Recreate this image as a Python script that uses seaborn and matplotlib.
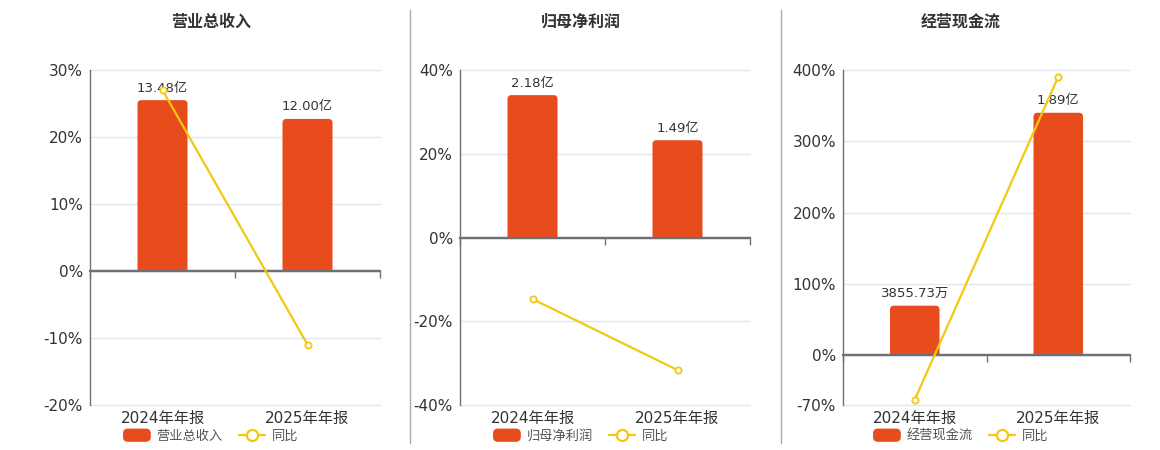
import matplotlib
matplotlib.use("Agg")
import matplotlib.pyplot as plt
import seaborn as sns
from matplotlib.lines import Line2D
from matplotlib.patches import Patch, FancyBboxPatch, Rectangle
from matplotlib.legend_handler import HandlerPatch

sns.set_theme(style="white")
plt.rcParams['font.family'] = ['DejaVu Sans', 'Noto Sans CJK SC']

# data
categories = ['2024年年报', '2025年年报']

revenue = [13.48, 12.00]
revenue_labels = ['13.48亿', '12.00亿']
revenue_yoy = [27.0, -10.98]

profit = [2.18, 1.49]
profit_labels = ['2.18亿', '1.49亿']
profit_yoy = [-14.7, -31.65]

cashflow = [0.3856, 1.89]
cashflow_labels = ['3855.73万', '1.89亿']
cashflow_yoy = [-62.4, 390.4]

titles = ['营业总收入', '归母净利润', '经营现金流']
yticks_list = [[-20, -10, 0, 10, 20, 30],
               [-40, -20, 0, 20, 40],
               [-70, 0, 100, 200, 300, 400]]

BAR_COLOR = '#E84C1D'
LINE_COLOR = '#F2C811'
AXIS_COLOR = '#6E7079'
GRID_COLOR = '#E0E6F1'
TEXT_COLOR = '#333333'


def rounded_handle(legend, orig_handle, xdescent, ydescent, width, height, fontsize):
    return FancyBboxPatch((-xdescent, -ydescent), width, height,
                          boxstyle="round,pad=0,rounding_size=3")


fig = plt.figure(figsize=(11.6, 4.5), dpi=100)

panels = [
    (revenue, revenue_labels, revenue_yoy),
    (profit, profit_labels, profit_yoy),
    (cashflow, cashflow_labels, cashflow_yoy),
]
ax_lefts = [90, 460, 843]
ax_widths = [290, 290, 287]
centers = [211, 581, 961]
AX_H = 335

for i, (vals, labels, yoy) in enumerate(panels):
    rect = [ax_lefts[i] / 1160, 1 - 405 / 450, ax_widths[i] / 1160, AX_H / 450]
    ax = fig.add_axes(rect)
    ax_bar = ax.twinx()
    ax_line = ax.twinx()

    ticks = yticks_list[i]
    ylo, yhi = ticks[0], ticks[-1]

    # bars on their own hidden scale, zero aligned with the % axis
    sns.barplot(x=categories, y=vals, ax=ax_bar, color=BAR_COLOR,
                width=0.345, saturation=1)
    bhi = max(vals) / 0.85
    blo = bhi * ylo / yhi
    ax_bar.set_ylim(blo, bhi)
    ax_bar.set_xlim(-0.5, 1.5)
    ax_bar.axis('off')

    # round the top corners of the bars
    xpp = 2.0 / ax_widths[i]
    ypp = (bhi - blo) / AX_H
    r = 4 * xpp
    clip = Rectangle((-0.5, 0), 2, bhi * 2, transform=ax_bar.transData)
    for p in list(ax_bar.patches):
        x0, w, h = p.get_x(), p.get_width(), p.get_height()
        p.remove()
        rb = FancyBboxPatch((x0, -10 * ypp), w, h + 10 * ypp,
                            boxstyle=f"round,pad=0,rounding_size={r}",
                            mutation_aspect=ypp / xpp,
                            facecolor=BAR_COLOR, edgecolor='none')
        ax_bar.add_patch(rb)
        rb.set_clip_path(clip)
    for x, v, lab in zip(range(len(vals)), vals, labels):
        ax_bar.annotate(lab, (x, v), xytext=(0, 4), textcoords='offset points',
                        ha='center', va='bottom', fontsize=9.5, color=TEXT_COLOR)

    # yoy line
    ax_line.axhline(0, color=AXIS_COLOR, lw=1.6, zorder=0.5)
    sns.lineplot(x=categories, y=yoy, ax=ax_line, color=LINE_COLOR, lw=1.6,
                 marker='o', markersize=4.5, markerfacecolor='white',
                 markeredgecolor=LINE_COLOR, markeredgewidth=1.3)
    ax_line.set_ylim(ylo, yhi)
    ax_line.axis('off')

    # main % axis
    ax.set_xlim(-0.5, 1.5)
    ax.set_ylim(ylo, yhi)
    ax.set_yticks(ticks)
    ax.set_yticklabels([f'{t}%' for t in ticks], fontsize=11, color=TEXT_COLOR)
    ax.yaxis.grid(True, color=GRID_COLOR, lw=1)
    for gl in ax.get_ygridlines():
        gl.set_clip_on(False)
    ax.tick_params(axis='y', length=0, pad=5)
    for s in ['top', 'right']:
        ax.spines[s].set_visible(False)
    ax.spines['left'].set_color(AXIS_COLOR)
    ax.spines['left'].set_linewidth(1)
    ax.spines['bottom'].set_position(('data', 0))
    ax.spines['bottom'].set_color(AXIS_COLOR)
    ax.spines['bottom'].set_linewidth(1.6)
    ax.set_xticks([-0.5, 0.5, 1.5])
    ax.set_xticklabels([])
    ax.tick_params(axis='x', bottom=True, length=5, width=1, color=AXIS_COLOR,
                   direction='out')

    sec = ax.secondary_xaxis(0)
    sec.set_xticks([0, 1], categories)
    sec.tick_params(length=0, pad=4, labelsize=11, labelcolor=TEXT_COLOR)
    sec.spines['bottom'].set_visible(False)

    fig.text(centers[i] / 1160, 1 - 22 / 450, titles[i], ha='center', va='center',
             fontsize=11.5, fontweight='bold', color=TEXT_COLOR)

    bar_handle = Patch(facecolor=BAR_COLOR, edgecolor=BAR_COLOR, label=titles[i])
    handles = [
        bar_handle,
        Line2D([0], [0], color=LINE_COLOR, lw=1.6, marker='o', markersize=8,
               markerfacecolor='white', markeredgecolor=LINE_COLOR,
               markeredgewidth=1.6, label='同比'),
    ]
    fig.legend(handles=handles, loc='center',
               bbox_to_anchor=(centers[i] / 1160, 1 - 436 / 450),
               ncol=2, frameon=False, fontsize=9.5, handlelength=2.0,
               handleheight=1.0, columnspacing=1.2, handletextpad=0.5,
               labelcolor='#555555',
               handler_map={bar_handle: HandlerPatch(patch_func=rounded_handle)})

# separators between panels
for x in [410, 781]:
    fig.add_artist(Line2D([x / 1160, x / 1160], [1 - 10 / 450, 1 - 443 / 450],
                          color='#AAAAAA', lw=1))

fig.savefig('out.png', dpi=100)
